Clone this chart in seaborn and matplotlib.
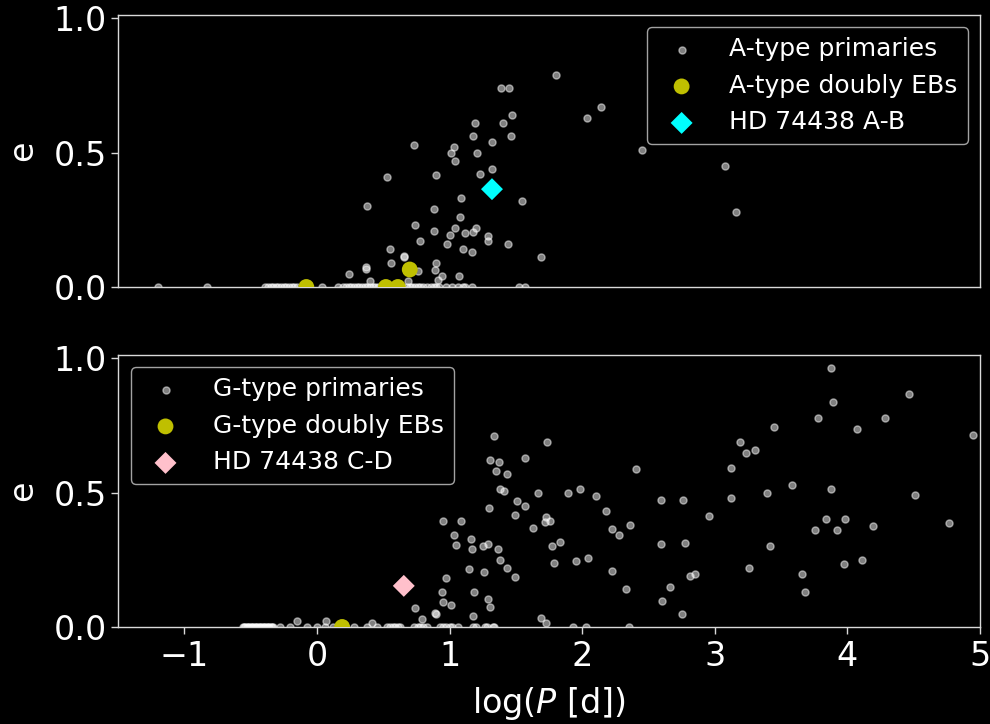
import matplotlib
matplotlib.use("Agg")
import matplotlib.pyplot as plt
import seaborn as sns

# ---------------- data ----------------
# A-type primaries (top panel)
a_logp = [1.80, 1.39, 1.45, 1.47, 1.19, 1.40, 1.18, 1.46, 1.32, 0.73, 1.03, 1.01, 1.21, 1.04,
          1.32, 1.23, 0.53, 0.90, 1.55, 1.09, 0.38, 0.88, 1.08, 0.74, 0.88, 1.04, 1.00, 1.12,
          1.20, 1.18, 1.29, 1.29, 1.44, 0.78, 0.98, 1.10, 1.17, 0.55, 1.69, 0.66, 0.56, 0.90,
          0.37, 0.37, 0.89, 0.24, 0.945, 1.07, 0.76, 0.91, 0.40, 0.685, 2.14, 2.04, 2.45, 3.08,
          3.16, 0.66,
          -1.20, -0.83, -0.39, -0.37, -0.35, -0.33, -0.31, -0.29, -0.27, -0.25, -0.23, -0.21,
          -0.19, -0.17, -0.15, 0.04, 0.16, 0.20, 0.22, 0.24, 0.26, 0.28, 0.30, 0.32, 0.34,
          0.36, 0.38, 0.40, 0.42, 0.44, 0.46, 0.50, 0.53, 0.56, 0.60, 0.64, 0.68, 0.70, 0.72,
          0.74, 0.76, 0.78, 0.80, 0.83, 0.86, 0.88, 0.90, 0.92, 0.97, 1.02, 1.06, 1.10, 1.12,
          1.17, 1.52, 1.57]
a_ecc = [0.79, 0.74, 0.74, 0.64, 0.61, 0.61, 0.56, 0.56, 0.54, 0.53, 0.52, 0.50, 0.50, 0.47,
         0.44, 0.42, 0.41, 0.415, 0.32, 0.33, 0.30, 0.29, 0.26, 0.23, 0.21, 0.22, 0.195, 0.20,
         0.22, 0.205, 0.19, 0.17, 0.16, 0.17, 0.16, 0.14, 0.13, 0.14, 0.11, 0.11, 0.09, 0.09,
         0.075, 0.068, 0.065, 0.047, 0.042, 0.04, 0.06, 0.026, 0.022, 0.022, 0.67, 0.63, 0.51,
         0.45, 0.28, 0.115,
         0.0, 0.0, 0.0, 0.0, 0.0, 0.0, 0.0, 0.0, 0.0, 0.0, 0.0, 0.0,
         0.0, 0.0, 0.0, 0.0, 0.0, 0.0, 0.0, 0.0, 0.0, 0.0, 0.0, 0.0, 0.0,
         0.0, 0.0, 0.0, 0.0, 0.0, 0.0, 0.0, 0.0, 0.0, 0.0, 0.0, 0.0, 0.0, 0.0,
         0.0, 0.0, 0.0, 0.0, 0.0, 0.0, 0.0, 0.0, 0.0, 0.0, 0.0, 0.0, 0.0, 0.0,
         0.0, 0.0, 0.0]

# A-type doubly eclipsing binaries
a_deb_logp = [-0.08, 0.52, 0.61, 0.70]
a_deb_ecc = [0.0, 0.0, 0.0, 0.065]

# HD 74438 A-B
ab_logp = [1.32]
ab_ecc = [0.364]

# G-type primaries (bottom panel)
g_logp = [1.335, 1.735, 1.304, 1.372, 1.569, 1.35, 1.43, 2.405, 1.378, 1.413, 1.67, 1.897,
          1.987, 2.103, 2.181, 2.362, 2.226, 2.281, 1.295, 1.506, 1.572, 1.493, 1.629, 1.727,
          1.72, 1.755, 1.77, 1.836, 1.788, 1.952, 2.045, 2.228, 2.329, 1.085, 0.95, 1.035,
          1.045, 1.161, 1.171, 1.254, 1.287, 1.362, 1.378, 1.43, 1.496, 1.146, 1.262, 0.977,
          1.184, 0.945, 0.95, 1.01, 1.292, 1.302, 1.176, 1.692, 1.73,
          3.88, 4.465, 3.89, 3.782, 4.283, 4.074, 4.948, 3.447, 3.188, 3.238, 3.306, 3.122,
          3.58, 3.397, 3.873, 4.507, 3.122, 2.596, 2.762, 2.954, 3.84, 3.981, 3.757, 3.923,
          4.19, 4.766, 2.596, 2.772, 3.414, 3.973, 4.107, 3.256, 3.656, 3.679, 2.813, 2.848,
          2.664, 2.604, 2.755,
          0.743, 0.889, 0.895, -0.148, 0.068, 0.418, 0.794,
          -0.56, -0.55, -0.54, -0.53, -0.52, -0.51, -0.50, -0.49, -0.48, -0.47, -0.46,
          -0.45, -0.44, -0.43, -0.42, -0.41, -0.40, -0.39, -0.38, -0.37, -0.36, -0.35, -0.34,
          -0.33, -0.28, -0.20, -0.075, 0.0, 0.06, 0.12, 0.28, 0.38, 0.45, 0.53, 0.55, 0.57,
          0.59, 0.61, 0.63, 0.73, 0.76, 0.78, 0.80, 0.83, 0.93, 0.95, 0.97, 1.00, 1.02, 1.06,
          1.18, 1.20, 1.27, 1.285, 1.33, 1.335, 1.93, 2.03, 2.35]
g_ecc = [0.711, 0.69, 0.623, 0.615, 0.628, 0.579, 0.57, 0.586, 0.514, 0.505, 0.5, 0.5,
         0.515, 0.487, 0.43, 0.38, 0.365, 0.343, 0.443, 0.468, 0.449, 0.416, 0.369, 0.408,
         0.39, 0.393, 0.301, 0.318, 0.239, 0.247, 0.257, 0.207, 0.141, 0.396, 0.396, 0.343,
         0.306, 0.328, 0.289, 0.3, 0.309, 0.289, 0.251, 0.219, 0.186, 0.215, 0.203, 0.182,
         0.132, 0.132, 0.092, 0.083, 0.103, 0.074, 0.041, 0.034, 0.014,
         0.963, 0.867, 0.838, 0.776, 0.776, 0.738, 0.714, 0.743, 0.688, 0.647, 0.66, 0.59,
         0.528, 0.5, 0.512, 0.49, 0.479, 0.471, 0.471, 0.412, 0.4, 0.4, 0.359, 0.362,
         0.375, 0.387, 0.31, 0.314, 0.301, 0.235, 0.248, 0.218, 0.198, 0.132, 0.19, 0.198,
         0.148, 0.098, 0.049,
         0.07, 0.052, 0.05, 0.022, 0.022, 0.016, 0.029,
         0.0, 0.0, 0.0, 0.0, 0.0, 0.0, 0.0, 0.0, 0.0, 0.0, 0.0,
         0.0, 0.0, 0.0, 0.0, 0.0, 0.0, 0.0, 0.0, 0.0, 0.0, 0.0, 0.0,
         0.0, 0.0, 0.0, 0.0, 0.0, 0.0, 0.0, 0.0, 0.0, 0.0, 0.0, 0.0, 0.0,
         0.0, 0.0, 0.0, 0.0, 0.0, 0.0, 0.0, 0.0, 0.0, 0.0, 0.0, 0.0, 0.0, 0.0,
         0.0, 0.0, 0.0, 0.0, 0.0, 0.0, 0.0, 0.0, 0.0]

# G-type doubly eclipsing binaries
g_deb_logp = [0.19]
g_deb_ecc = [0.0]

# HD 74438 C-D
cd_logp = [0.655]
cd_ecc = [0.153]

y_ticks = [0.0, 0.5, 1.0]
x_ticks = [-1, 0, 1, 2, 3, 4, 5]

# ---------------- style ----------------
plt.style.use("dark_background")
plt.rcParams["font.family"] = ["DejaVu Sans"]
plt.rcParams["font.size"] = 22
plt.rcParams["axes.linewidth"] = 1.0
plt.rcParams["axes.edgecolor"] = "0.85"

fig = plt.figure(figsize=(9.9, 7.24), dpi=100)
ax1 = fig.add_axes([0.1192, 0.6036, 0.8707, 0.3757])
ax2 = fig.add_axes([0.1192, 0.1340, 0.8707, 0.3757], sharex=ax1)


def panel(ax, px, pe, dx, de, hx, he, prim_label, deb_label, hd_label, hd_color, loc):
    sns.scatterplot(x=px, y=pe, ax=ax, color="white", alpha=0.5, s=26,
                    edgecolor="white", linewidth=1.0, label=prim_label, zorder=2)
    sns.scatterplot(x=dx, y=de, ax=ax, color="y", s=130, edgecolor="none",
                    label=deb_label, zorder=3)
    sns.scatterplot(x=hx, y=he, ax=ax, color=hd_color, marker="D", s=125,
                    edgecolor="none", label=hd_label, zorder=4)
    ax.set_xlim(-1.5, 5)
    ax.set_ylim(0, 1.012)
    ax.set_yticks(y_ticks)
    ax.set_ylabel("e", fontsize=24, labelpad=10)
    ax.tick_params(axis="both", labelsize=24, length=4.7, width=1.0,
                   color="0.85", labelcolor="white")
    ax.legend(loc=loc, fontsize=18, handletextpad=0.9)


panel(ax1, a_logp, a_ecc, a_deb_logp, a_deb_ecc, ab_logp, ab_ecc,
      "A-type primaries", "A-type doubly EBs", "HD 74438 A-B", "cyan", "upper right")
panel(ax2, g_logp, g_ecc, g_deb_logp, g_deb_ecc, cd_logp, cd_ecc,
      "G-type primaries", "G-type doubly EBs", "HD 74438 C-D", "pink", "upper left")

ax1.tick_params(axis="x", bottom=False, labelbottom=False)
ax1.set_xlabel("")
ax2.set_xticks(x_ticks)
ax2.tick_params(axis="x", pad=5)
ax2.set_xlabel(r"log($P$ [d])", fontsize=24, labelpad=8)

fig.savefig("out.png", dpi=100, facecolor="black")
